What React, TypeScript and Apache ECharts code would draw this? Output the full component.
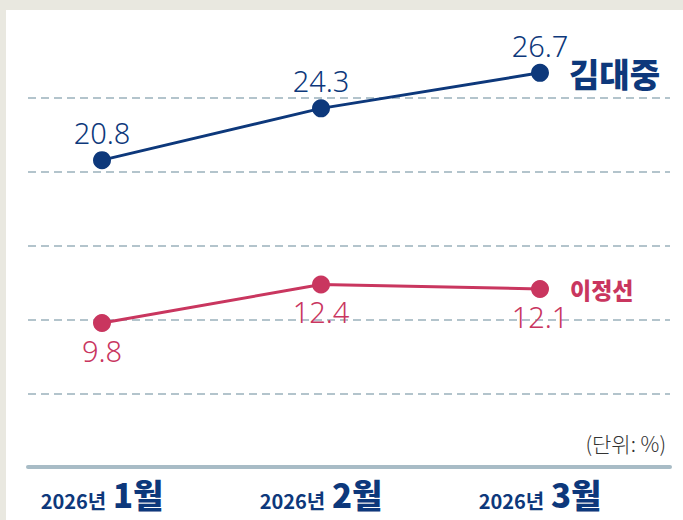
import React, { useEffect, useRef } from "react";
import * as echarts from "echarts";

const months = ["1월", "2월", "3월"];
const yearLabel = "2026년";
const kimName = "김대중";
const kimValues = [20.8, 24.3, 26.7];
const leeName = "이정선";
const leeValues = [9.8, 12.4, 12.1];
const unitText = "(단위: %)";

const NAVY = "#0d387b";
const PINK = "#c9365f";
const GRID = "#b3c4cc";
const FONT = "'Noto Sans CJK KR', 'Noto Sans', sans-serif";
const NUMFONT = "'Noto Sans', 'Noto Sans CJK KR', sans-serif";

export default function App() {
  const ref = useRef<HTMLDivElement>(null);
  useEffect(() => {
    document.body.style.margin = "0";
    const chart = echarts.init(ref.current!, null, { renderer: "svg" });
    chart.setOption({
      animation: false,
      backgroundColor: "transparent",
      title: {
        text: unitText,
        right: 12,
        top: 427,
        textStyle: { fontFamily: FONT, fontSize: 21, fontWeight: 300, color: "#333" },
      },
      grid: [
        { left: 28, right: 13, top: 24, bottom: 126 },
        { left: 102, right: 143, top: 24, bottom: 126 },
      ],
      xAxis: [
        {
          gridIndex: 0,
          type: "value",
          min: 0,
          max: 1,
          offset: 73,
          axisLine: { show: true, lineStyle: { color: "#a8bcc6", width: 4 } },
          axisTick: { show: false },
          axisLabel: { show: false },
          splitLine: { show: false },
        },
        {
          gridIndex: 1,
          type: "category",
          boundaryGap: false,
          data: months,
          axisLine: { show: false },
          axisTick: { show: false },
          axisLabel: {
            margin: 86,
            formatter: (v: string) => `{y|${yearLabel}}  {m|${v}}`,
            rich: {
              y: { fontFamily: FONT, fontSize: 20, fontWeight: "bold", color: NAVY, lineHeight: 30, verticalAlign: "bottom" },
              m: { fontFamily: FONT, fontSize: 33, fontWeight: 900, color: NAVY, lineHeight: 30, verticalAlign: "bottom" },
            },
          },
        },
      ],
      yAxis: [
        {
          gridIndex: 0,
          type: "value",
          min: 5,
          max: 30,
          interval: 5,
          axisLine: { show: false },
          axisTick: { show: false },
          axisLabel: { show: false },
          splitLine: {
            show: true,
            lineStyle: {
              color: [GRID, GRID, GRID, GRID, GRID, "rgba(0,0,0,0)"],
              width: 2,
              type: [8, 5],
            },
          },
        },
        {
          gridIndex: 1,
          type: "value",
          min: 5,
          max: 30,
          interval: 5,
          show: false,
          splitLine: { show: false },
        },
      ],
      series: [
        {
          name: kimName,
          type: "line",
          xAxisIndex: 1,
          yAxisIndex: 1,
          data: kimValues,
          symbol: "circle",
          symbolSize: 18,
          itemStyle: { color: NAVY },
          lineStyle: { color: NAVY, width: 3 },
          label: {
            show: true,
            position: "top",
            distance: 4,
            fontFamily: NUMFONT,
            fontSize: 29,
            fontWeight: 300,
            color: NAVY,
          },
          endLabel: {
            show: true,
            formatter: "{a}",
            distance: 29,
            fontFamily: FONT,
            fontSize: 33,
            fontWeight: 900,
            color: NAVY,
          },
        },
        {
          name: leeName,
          type: "line",
          xAxisIndex: 1,
          yAxisIndex: 1,
          data: leeValues,
          symbol: "circle",
          symbolSize: 18,
          itemStyle: { color: PINK },
          lineStyle: { color: PINK, width: 3 },
          label: {
            show: true,
            position: "bottom",
            distance: 4,
            fontFamily: NUMFONT,
            fontSize: 29,
            fontWeight: 300,
            color: PINK,
          },
          endLabel: {
            show: true,
            formatter: "{a}",
            distance: 30,
            fontFamily: FONT,
            fontSize: 23,
            fontWeight: 900,
            color: PINK,
          },
        },
      ],
    });
    return () => chart.dispose();
  }, []);
  return (
    <div style={{ position: "relative", width: 683, height: 520, background: "#e9e8e0", overflow: "hidden" }}>
      <div style={{ position: "absolute", left: 6, top: 10, right: 0, bottom: 0, background: "#ffffff" }} />
      <div ref={ref} style={{ position: "absolute", left: 0, top: 0, width: 683, height: 520 }} />
    </div>
  );
}
